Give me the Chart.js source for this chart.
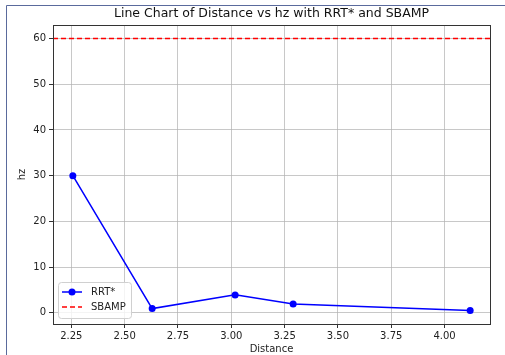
<!DOCTYPE html>
<html lang="en">
  <head>
    <meta charset="UTF-8">
    <title>Distance vs hz</title>
    <style>
      html, body { margin: 0; padding: 0; background: #fff; }
      #wrap { position: relative; width: 505px; height: 355px; }
    </style>
  </head>
  <body>
    <div id="wrap">
      <canvas id="chart" width="505" height="355"></canvas>
    </div>
    <script src="https://cdn.jsdelivr.net/npm/chart.js@4.4.1/dist/chart.umd.min.js"></script>
    <script>
      // values
      var distances = [2.257, 2.629, 3.018, 3.29, 4.12];
      var rrtHz = [30.0, 0.9, 3.9, 1.9, 0.5];
      var sbampHz = 60;
      var xTicks = [2.25, 2.5, 2.75, 3.0, 3.25, 3.5, 3.75, 4.0];
      var yTicks = [0, 10, 20, 30, 40, 50, 60];

      var font = "'DejaVu Sans', sans-serif";
      var gridColor = 'rgba(176, 176, 176, 0.7)';

      // frame round the plot + the thin border round the figure
      var framePlugin = {
        id: 'frame',
        beforeDraw: function (chart) {
          var c = chart.ctx;
          c.save();
          c.fillStyle = '#fff';
          c.fillRect(0, 0, chart.width, chart.height);
          c.strokeStyle = '#5a6a9c';
          c.lineWidth = 1;
          c.beginPath();
          c.moveTo(6.5, chart.height);
          c.lineTo(6.5, 5.5);
          c.lineTo(chart.width, 5.5);
          c.stroke();
          c.restore();
        },
        afterDatasetsDraw: function (chart) {
          var a = chart.chartArea;
          var c = chart.ctx;
          c.save();
          c.strokeStyle = '#333';
          c.lineWidth = 1;
          c.strokeRect(Math.round(a.left) + 0.5, Math.round(a.top) + 0.5,
                       Math.round(a.right - a.left), Math.round(a.bottom - a.top));
          c.restore();
        }
      };

      // legend drawn inside the axes, lower left, like matplotlib
      var innerLegend = {
        id: 'innerLegend',
        afterDraw: function (chart) {
          var a = chart.chartArea;
          var c = chart.ctx;
          var x = a.left + 5, y = a.bottom - 42, w = 73, h = 36;
          c.save();
          c.fillStyle = 'rgba(255,255,255,0.8)';
          c.strokeStyle = '#d0d0d0';
          c.lineWidth = 1;
          c.beginPath();
          c.roundRect(x + 0.5, y + 0.5, w, h, 3);
          c.fill();
          c.stroke();
          c.font = '10px ' + font;
          c.textBaseline = 'middle';
          chart.data.datasets.forEach(function (ds, i) {
            var ry = y + 10 + i * 15;
            c.strokeStyle = ds.borderColor;
            c.lineWidth = 1.5;
            c.setLineDash(ds.borderDash || []);
            c.beginPath();
            c.moveTo(x + 4, ry);
            c.lineTo(x + 24, ry);
            c.stroke();
            c.setLineDash([]);
            if (ds.pointRadius > 0) {
              c.fillStyle = ds.backgroundColor;
              c.beginPath();
              c.arc(x + 14, ry, 3.5, 0, Math.PI * 2);
              c.fill();
            }
            c.fillStyle = '#222';
            c.fillText(ds.label, x + 33, ry);
          });
          c.restore();
        }
      };

      new Chart(document.getElementById('chart'), {
        type: 'line',
        data: {
          datasets: [{
            label: 'RRT*',
            data: distances.map(function (d, i) { return { x: d, y: rrtHz[i] }; }),
            borderColor: '#0000ff',
            backgroundColor: '#0000ff',
            borderWidth: 1.5,
            pointRadius: 3.5,
            pointBorderWidth: 0,
            pointHoverRadius: 3.5,
            tension: 0
          }, {
            label: 'SBAMP',
            data: [{ x: 2.164, y: sbampHz }, { x: 4.213, y: sbampHz }],
            borderColor: '#ff0000',
            backgroundColor: '#ff0000',
            borderWidth: 1.5,
            borderDash: [5, 3],
            pointRadius: 0,
            tension: 0
          }]
        },
        options: {
          responsive: false,
          animation: false,
          layout: { padding: { left: 0, right: 15, top: 0, bottom: 0 } },
          scales: {
            x: {
              type: 'linear',
              min: 2.164,
              max: 4.213,
              afterBuildTicks: function (s) { s.ticks = xTicks.map(function (v) { return { value: v }; }); },
              afterFit: function (s) { s.height = 31; },
              grid: { color: gridColor, tickColor: '#333', tickLength: 4, lineWidth: 1 },
              border: { display: false },
              ticks: {
                color: '#222',
                font: { family: font, size: 10 },
                padding: 2,
                maxRotation: 0,
                callback: function (v) { return v.toFixed(2); }
              },
              title: { display: true, text: 'Distance', color: '#222', font: { family: font, size: 10 }, padding: { top: 2, bottom: 0 } }
            },
            y: {
              min: -2.475,
              max: 62.975,
              afterBuildTicks: function (s) { s.ticks = yTicks.map(function (v) { return { value: v }; }); },
              afterFit: function (s) { s.width = 53; },
              grid: { color: gridColor, tickColor: '#333', tickLength: 4, lineWidth: 1 },
              border: { display: false },
              ticks: { color: '#222', font: { family: font, size: 10 }, padding: 3 },
              title: { display: true, text: 'hz', color: '#222', font: { family: font, size: 10 }, padding: { top: 16, bottom: 4 } }
            }
          },
          plugins: {
            legend: { display: false },
            tooltip: { enabled: false },
            title: {
              display: true,
              fullSize: false,
              text: 'Line Chart of Distance vs hz with RRT* and SBAMP',
              color: '#111',
              font: { family: font, size: 12.5, weight: 'normal' },
              padding: { top: 6, bottom: 4 }
            }
          }
        },
        plugins: [framePlugin, innerLegend]
      });
    </script>
  </body>
</html>
